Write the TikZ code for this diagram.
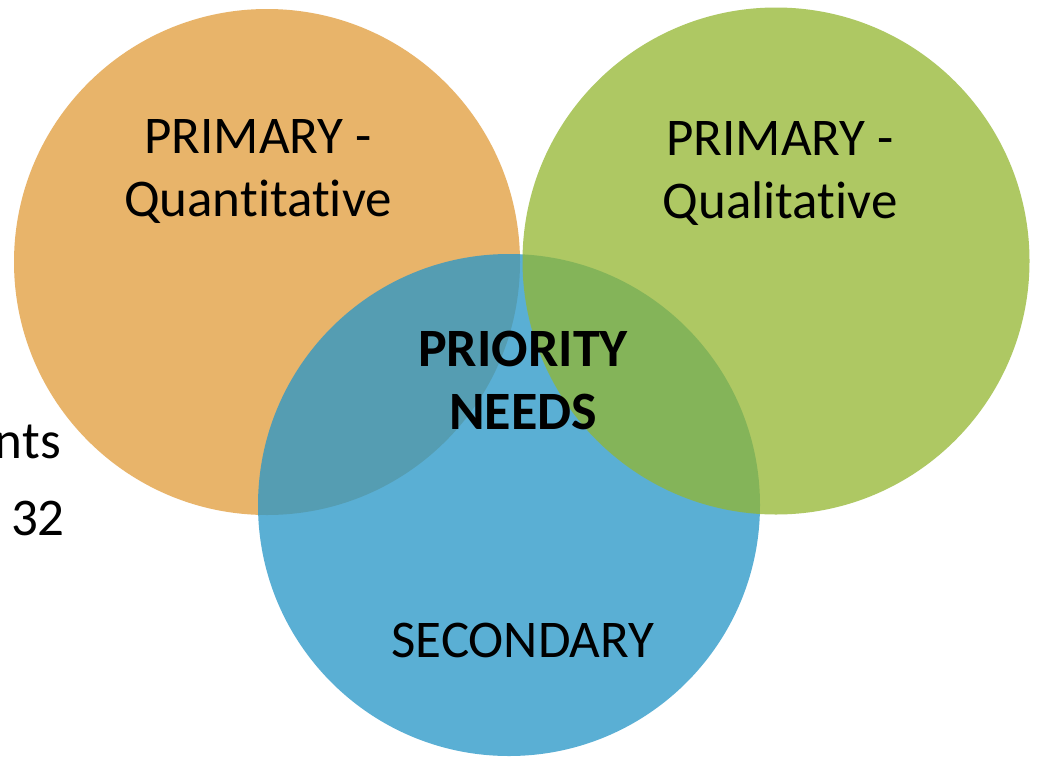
\documentclass[tikz,border=0pt]{standalone}
\usepackage{fontspec}
\setmainfont{Carlito}[RawFeature={-liga;-clig;-calt;-dlig}]
\definecolor{orangeC}{RGB}{232,180,106}
\definecolor{blueC}{RGB}{41,151,200}
\definecolor{greenC}{RGB}{147,182,48}
\begin{document}
\begin{tikzpicture}[x=1pt,y=-1pt,
  venn/.style={circle,inner sep=0pt,minimum size=#1},
  lbl/.style={inner sep=0pt,align=center,font=\fontsize{53}{63}\selectfont},
  blbl/.style={lbl,font=\fontsize{54}{63}\selectfont\bfseries},
  bgtxt/.style={inner sep=0pt,font=\fontsize{53}{63}\selectfont}]
\useasboundingbox[fill=white] (0,0) rectangle (1039,758);
% background text fragments
\node[bgtxt,anchor=base east] (nts) at (61,458) {nts};
\node[bgtxt,anchor=base east] (n32) at (65,535) {32};
% circles
\node[venn=506pt,fill=orangeC] (quant) at (267,262) {};
\node[venn=502pt,fill=blueC,fill opacity=0.77] (sec) at (509,505) {};
\node[venn=507pt,fill=greenC,fill opacity=0.75] (qual) at (776,261) {};
% labels
\node[lbl,anchor=north] (tq) at (258,119) {PRIMARY -\\Quantitative};
\node[lbl,anchor=north] (tl) at (780,121) {PRIMARY -\\Qualitative};
\node[blbl,anchor=north] (tp) at (523,331) {PRIORITY\\NEEDS};
\node[lbl,anchor=base] (ts) at (523,657) {SECONDARY};
\end{tikzpicture}
\end{document}
